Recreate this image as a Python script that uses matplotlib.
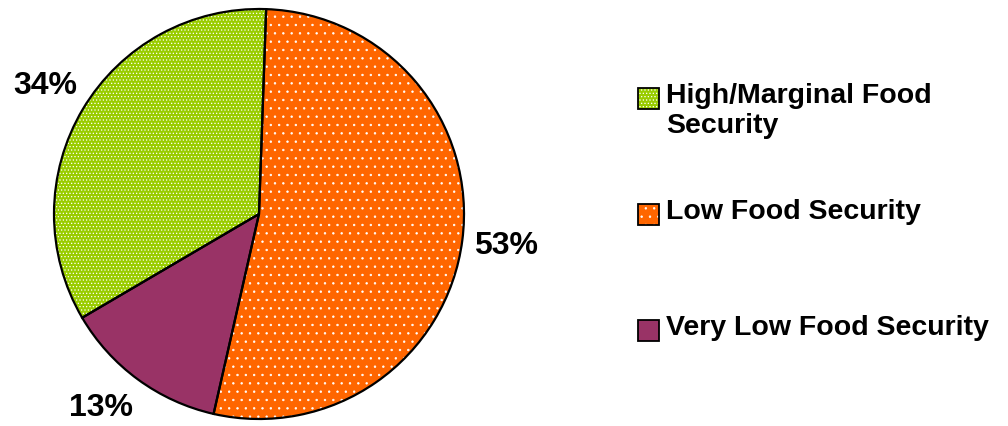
import matplotlib
matplotlib.use("Agg")
import matplotlib.pyplot as plt
from matplotlib.patches import Rectangle, Wedge

# data, in the order the slices go clockwise from the top
labels = ["Low Food Security", "Very Low Food Security", "High/Marginal Food\nSecurity"]
shares = [53, 13, 34]
colors = ["#FF6600", "#993366", "#99CC00"]
hatches = ["..", "", "....."]

# legend order
legend_order = [2, 0, 1]

plt.rcParams["font.family"] = ["Liberation Sans", "DejaVu Sans"]
plt.rcParams["font.weight"] = "bold"
plt.rcParams["hatch.linewidth"] = 0.5

W, H = 1008, 426
fig = plt.figure(figsize=(W / 100, H / 100), dpi=100)

# pie centre (259, 214) px from top-left, radius 205 px
cx, cy, r = 259, 214, 205
ax = fig.add_axes([(cx - r) / W, (H - cy - r) / H, 2 * r / W, 2 * r / H])

# white edge so the hatch dots come out white; black outline added after
wedges, texts, autotexts = ax.pie(
    shares, colors=colors, startangle=88, counterclock=False,
    autopct=lambda p: f"{round(p):d}%", pctdistance=1.215,
    wedgeprops={"edgecolor": "white", "linewidth": 0},
    textprops={"fontsize": 23, "fontweight": "bold", "color": "black"},
)
# the small slice label sits a bit further round and higher in the original
x, y = autotexts[1].get_position()
autotexts[1].set_position((x - 0.055, y + 0.035))
for w, h in zip(wedges, hatches):
    if h:
        w.set_hatch(h)
    outline = Wedge(w.center, w.r, w.theta1, w.theta2, facecolor="none",
                    edgecolor="black", linewidth=1.6, zorder=3, clip_on=False)
    ax.add_patch(outline)
ax.set_xlim(-1, 1)
ax.set_ylim(-1, 1)
ax.set_aspect("equal")
ax.axis("off")

# legend drawn by hand so the marker sits on the first text line
box_x, box = 638, 21
text_x = 666
row_tops = [88, 204, 320]
for top, i in zip(row_tops, legend_order):
    x0, y0 = box_x / W, 1 - (top + box) / H
    fill = Rectangle((x0, y0), box / W, box / H, transform=fig.transFigure,
                     facecolor=colors[i], edgecolor="white", linewidth=0,
                     hatch=hatches[i] or None)
    frame = Rectangle((x0, y0), box / W, box / H, transform=fig.transFigure,
                      facecolor="none", edgecolor="black", linewidth=1.3)
    fig.add_artist(fill)
    fig.add_artist(frame)
    fig.text(text_x / W, 1 - (top - 5) / H, labels[i], fontsize=20.5,
             fontweight="bold", va="top", ha="left", linespacing=1.2)

fig.savefig("out.png", dpi=100)
